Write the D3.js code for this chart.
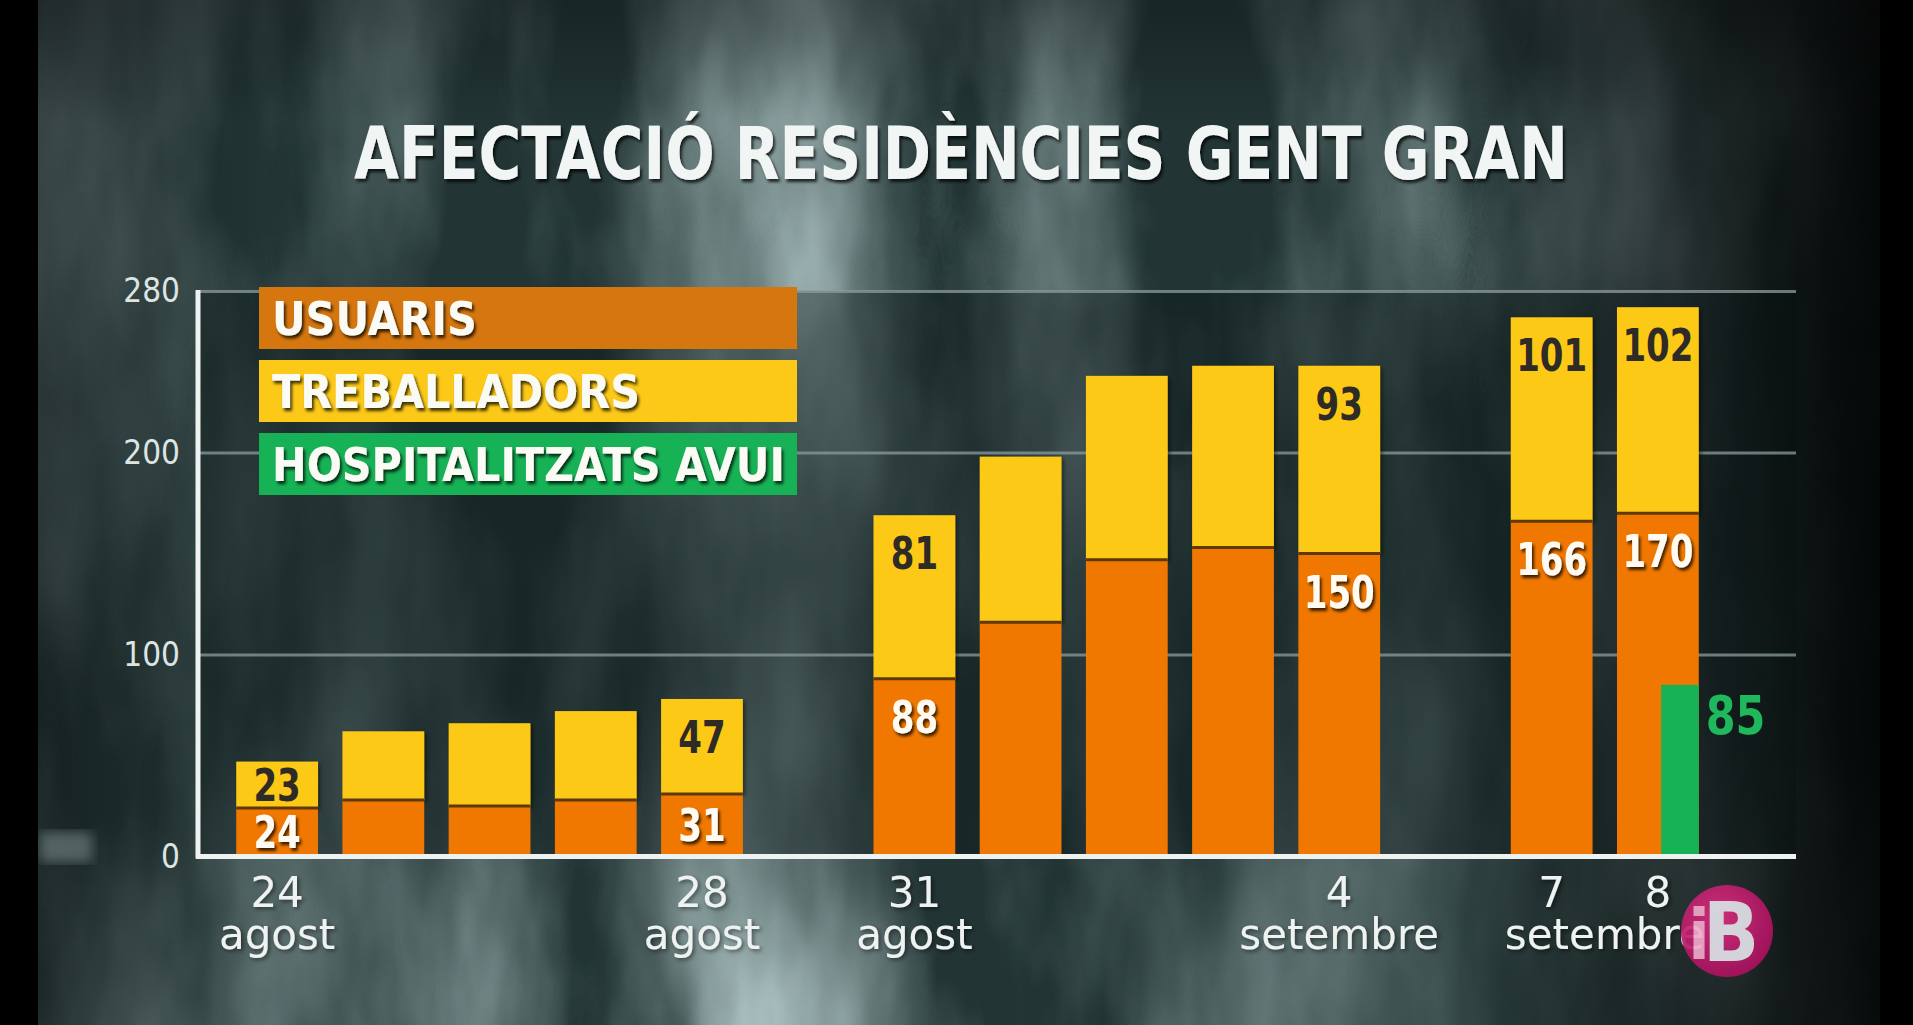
<!DOCTYPE html>
<html>
<head>
<meta charset="utf-8">
<script src="https://cdn.jsdelivr.net/npm/d3@7"></script>
<style>
  html, body { margin: 0; padding: 0; background: #000; overflow: hidden; }
  svg { display: block; }
</style>
</head>
<body>
<svg id="chart" width="1913" height="1025"></svg>
<script>
// data (gaps are the weekends)
const slots = ['24 ag', '25 ag', '26 ag', '27 ag', '28 ag', 'pausa 1', '31 ag', '1 set', '2 set', '3 set', '4 set', 'pausa 2', '7 set', '8 set'];
const usuaris = [24, 28, 25, 28, 31, null, 88, 116, 147, 153, 150, null, 166, 170];
const treballadors = [23, 34, 41, 44, 47, null, 81, 82, 91, 90, 93, null, 101, 102];
const hospitalitzats = [null, null, null, null, null, null, null, null, null, null, null, null, null, 85];
const labelled = [true, false, false, false, true, false, true, false, false, false, true, false, true, true];

const yTicks = [0, 100, 200, 280];
const dayTicks = ['24 ag', '28 ag', '31 ag', '4 set', '7 set', '8 set'];
const dayLabels = ['24', '28', '31', '4', '7', '8'];
const monthLabels = ['agost', 'agost', 'agost', 'setembre', 'setembre'];
const monthFrom = ['24 ag', '28 ag', '31 ag', '4 set', '7 set'];
const monthTo = ['24 ag', '28 ag', '31 ag', '4 set', '8 set'];

const legendLabels = ['USUARIS', 'TREBALLADORS', 'HOSPITALITZATS AVUI'];
const title = 'AFECTACIÓ RESIDÈNCIES GENT GRAN';

const orange = '#f07800';
const yellow = '#fcc918';
const green = '#17b255';
const legendColors = ['#d5760f', yellow, green];

const width = 1913;
const height = 1025;
const plotLeft = 198;
const plotRight = 1796;
const bold = '"DejaVu Sans Condensed", "DejaVu Sans", sans-serif';

const svg = d3.select('#chart');
const defs = svg.append('defs');

// ---- background: smoky teal texture, streaky like the studio backdrop
const smoke = defs.append('filter').attr('id', 'smoke')
    .attr('x', 0).attr('y', 0).attr('width', '100%').attr('height', '100%');
smoke.append('feTurbulence')
    .attr('type', 'fractalNoise')
    .attr('baseFrequency', '0.0045 0.0016')
    .attr('numOctaves', 5)
    .attr('seed', 4);
smoke.append('feColorMatrix')
    .attr('type', 'matrix')
    .attr('values', '0 0 0 0 0.45  0 0 0 0 0.58  0 0 0 0 0.58  1.9 0 0 0 -0.62');

const smokeTop = defs.append('radialGradient').attr('id', 'smokeTop')
    .attr('cx', 0.5).attr('cy', 0.15).attr('r', 0.5);
smokeTop.append('stop').attr('offset', 0).attr('stop-color', '#fff');
smokeTop.append('stop').attr('offset', 1).attr('stop-color', '#fff').attr('stop-opacity', 0);

const smokeBottom = defs.append('radialGradient').attr('id', 'smokeBottom')
    .attr('cx', 0.35).attr('cy', 1).attr('r', 0.45);
smokeBottom.append('stop').attr('offset', 0).attr('stop-color', '#fff');
smokeBottom.append('stop').attr('offset', 1).attr('stop-color', '#fff').attr('stop-opacity', 0);

const mask = defs.append('mask').attr('id', 'smokeMask');
mask.append('rect').attr('width', width).attr('height', height).attr('fill', '#6a6a6a');
mask.append('rect').attr('width', width).attr('height', height).attr('fill', 'url(#smokeTop)');
mask.append('rect').attr('width', width).attr('height', height).attr('fill', 'url(#smokeBottom)');

const vignette = defs.append('linearGradient').attr('id', 'vignette')
    .attr('x1', 0).attr('x2', 1).attr('y1', 0).attr('y2', 0);
vignette.append('stop').attr('offset', 0).attr('stop-color', '#000').attr('stop-opacity', 0.4);
vignette.append('stop').attr('offset', 0.14).attr('stop-color', '#000').attr('stop-opacity', 0);
vignette.append('stop').attr('offset', 0.76).attr('stop-color', '#000').attr('stop-opacity', 0);
vignette.append('stop').attr('offset', 0.98).attr('stop-color', '#000').attr('stop-opacity', 0.85);

const topShade = defs.append('linearGradient').attr('id', 'topShade')
    .attr('x1', 0).attr('x2', 0).attr('y1', 0).attr('y2', 1);
topShade.append('stop').attr('offset', 0).attr('stop-color', '#000').attr('stop-opacity', 0.3);
topShade.append('stop').attr('offset', 0.12).attr('stop-color', '#000').attr('stop-opacity', 0);

const shadow = defs.append('filter').attr('id', 'shadow')
    .attr('x', '-10%').attr('y', '-20%').attr('width', '130%').attr('height', '150%');
shadow.append('feDropShadow')
    .attr('dx', 2).attr('dy', 3).attr('stdDeviation', 1.5)
    .attr('flood-color', '#000').attr('flood-opacity', 0.75);

const softShadow = defs.append('filter').attr('id', 'softShadow')
    .attr('x', '-10%').attr('y', '-10%').attr('width', '130%').attr('height', '130%');
softShadow.append('feDropShadow')
    .attr('dx', 2).attr('dy', 2).attr('stdDeviation', 2)
    .attr('flood-color', '#000').attr('flood-opacity', 0.5);

const blur = defs.append('filter').attr('id', 'blur');
blur.append('feGaussianBlur').attr('stdDeviation', 6);

svg.append('rect').attr('width', width).attr('height', height).attr('fill', '#223434');
svg.append('rect').attr('width', width).attr('height', height)
    .attr('filter', 'url(#smoke)').attr('mask', 'url(#smokeMask)');
svg.append('rect').attr('width', width).attr('height', height).attr('fill', 'url(#vignette)');
svg.append('rect').attr('width', width).attr('height', height).attr('fill', 'url(#topShade)');

// ---- scales
const x = d3.scaleBand()
    .domain(slots)
    .range([plotLeft, 1737])
    .paddingInner(0.23)
    .paddingOuter(0.36);

const y = d3.scaleLinear()
    .domain([0, 200])
    .range([856.5, 452.6]);

const bw = x.bandwidth();
const mid = (slot) => x(slot) + bw / 2;

// plot area is a shade darker than the backdrop
svg.append('rect')
    .attr('x', plotLeft)
    .attr('y', y(280))
    .attr('width', plotRight - plotLeft)
    .attr('height', y(0) - y(280))
    .attr('fill', '#061010')
    .attr('opacity', 0.38);

// video artefact left of the zero line
svg.append('rect')
    .attr('x', 40).attr('y', 832).attr('width', 52).attr('height', 30)
    .attr('fill', '#6a7a7a').attr('opacity', 0.7)
    .attr('filter', 'url(#blur)');

// ---- gridlines + y labels
const yAxis = svg.append('g')
    .attr('transform', `translate(${plotLeft},0)`)
    .call(d3.axisLeft(y)
        .tickValues(yTicks)
        .tickSize(-(plotRight - plotLeft))
        .tickPadding(18));
yAxis.select('.domain').remove();
yAxis.selectAll('.tick line')
    .attr('stroke', '#8c9c9c')
    .attr('stroke-opacity', 0.75)
    .attr('stroke-width', 3);
yAxis.selectAll('.tick text')
    .attr('fill', '#dde5e3')
    .style('font', '33px "DejaVu Sans Condensed", "DejaVu Sans", sans-serif');

// ---- legend
const legend = svg.append('g').attr('class', 'legend');
legend.selectAll('rect')
    .data(legendLabels)
    .join('rect')
    .attr('x', 259)
    .attr('y', (d, i) => 287 + i * 73)
    .attr('width', 538)
    .attr('height', 62)
    .attr('fill', (d, i) => legendColors[i]);
legend.selectAll('text')
    .data(legendLabels)
    .join('text')
    .attr('x', 272)
    .attr('y', (d, i) => 287 + i * 73 + 48)
    .attr('fill', '#fbfbf6')
    .attr('filter', 'url(#shadow)')
    .style('font', `bold 46px ${bold}`)
    .text((d) => d);

// ---- stacked bars
const rows = slots
    .map((slot, i) => ({
        slot,
        u: usuaris[i],
        t: treballadors[i],
        h: hospitalitzats[i],
        show: labelled[i],
    }))
    .filter((d) => d.u !== null);

const bars = svg.append('g').attr('class', 'bars');

bars.selectAll('.treb')
    .data(rows)
    .join('rect')
    .attr('class', 'treb')
    .attr('x', (d) => x(d.slot))
    .attr('y', (d) => y(d.u + d.t))
    .attr('width', bw)
    .attr('height', (d) => y(d.u) - y(d.u + d.t))
    .attr('fill', yellow)
    .attr('filter', 'url(#softShadow)');

bars.selectAll('.usu')
    .data(rows)
    .join('rect')
    .attr('class', 'usu')
    .attr('x', (d) => x(d.slot))
    .attr('y', (d) => y(d.u))
    .attr('width', bw)
    .attr('height', (d) => y(0) - y(d.u))
    .attr('fill', orange);

bars.selectAll('.sep')
    .data(rows)
    .join('line')
    .attr('class', 'sep')
    .attr('x1', (d) => x(d.slot))
    .attr('x2', (d) => x(d.slot) + bw)
    .attr('y1', (d) => y(d.u))
    .attr('y2', (d) => y(d.u))
    .attr('stroke', '#5e3806')
    .attr('stroke-width', 3);

const hosp = rows.filter((d) => d.h !== null);
bars.selectAll('.hosp')
    .data(hosp)
    .join('rect')
    .attr('class', 'hosp')
    .attr('x', (d) => x(d.slot) + bw * 0.54)
    .attr('y', (d) => y(d.h))
    .attr('width', bw * 0.46)
    .attr('height', (d) => y(0) - y(d.h))
    .attr('fill', green);

// ---- value labels
const squeeze = (sel, k) => sel.each(function () {
    const w = this.getComputedTextLength();
    d3.select(this).attr('textLength', w * k).attr('lengthAdjust', 'spacingAndGlyphs');
});

const shown = rows.filter((d) => d.show);
const labelY = (top, bottom) => Math.min(top + 38, (top + bottom) / 2);

bars.selectAll('.lab-u')
    .data(shown)
    .join('text')
    .attr('class', 'lab-u')
    .attr('x', (d) => mid(d.slot))
    .attr('y', (d) => labelY(y(d.u), y(0)))
    .attr('dy', '0.36em')
    .attr('text-anchor', 'middle')
    .attr('fill', '#fffaf2')
    .attr('filter', 'url(#shadow)')
    .style('font', `bold 45px ${bold}`)
    .text((d) => d.u)
    .call(squeeze, 0.84);

bars.selectAll('.lab-t')
    .data(shown)
    .join('text')
    .attr('class', 'lab-t')
    .attr('x', (d) => mid(d.slot))
    .attr('y', (d) => labelY(y(d.u + d.t), y(d.u)))
    .attr('dy', '0.36em')
    .attr('text-anchor', 'middle')
    .attr('fill', '#2e2b26')
    .style('font', `bold 45px ${bold}`)
    .text((d) => d.t)
    .call(squeeze, 0.84);

bars.selectAll('.lab-h')
    .data(hosp)
    .join('text')
    .attr('class', 'lab-h')
    .attr('x', (d) => x(d.slot) + bw + 7)
    .attr('y', (d) => y(d.h) + 30)
    .attr('dy', '0.36em')
    .attr('fill', '#1fb85c')
    .style('font', `bold 53px ${bold}`)
    .text((d) => d.h)
    .call(squeeze, 0.9);

// ---- axis frame
svg.append('line')
    .attr('x1', plotLeft).attr('x2', plotLeft)
    .attr('y1', y(280) - 1).attr('y2', y(0) + 2)
    .attr('stroke', '#eef3f2').attr('stroke-width', 5);
svg.append('line')
    .attr('x1', plotLeft - 2).attr('x2', plotRight)
    .attr('y1', y(0)).attr('y2', y(0))
    .attr('stroke', '#eef3f2').attr('stroke-width', 5);

// ---- date labels: one text per month block, day numbers above the month name
const dateLabels = svg.append('g')
    .attr('fill', '#eef2f0')
    .attr('text-anchor', 'middle')
    .style('font', '42px "DejaVu Sans", sans-serif');

monthLabels.forEach((month, i) => {
    const a = dayTicks.indexOf(monthFrom[i]);
    const b = dayTicks.indexOf(monthTo[i]);
    const t = dateLabels.append('text').attr('filter', 'url(#softShadow)');
    for (let k = a; k <= b; k += 1) {
        t.append('tspan')
            .attr('x', mid(dayTicks[k]))
            .attr('y', y(0) + 50.5)
            .text(dayLabels[k]);
    }
    t.append('tspan')
        .attr('x', (mid(monthFrom[i]) + mid(monthTo[i])) / 2)
        .attr('y', 949)
        .text(month);
});

// ---- title
svg.append('text')
    .attr('x', 961)
    .attr('y', 179)
    .attr('text-anchor', 'middle')
    .attr('fill', '#f1f6f4')
    .attr('filter', 'url(#shadow)')
    .attr('textLength', 1214)
    .attr('lengthAdjust', 'spacingAndGlyphs')
    .style('font', `bold 73px ${bold}`)
    .text(title);

// ---- letterbox bars
svg.append('rect').attr('x', 0).attr('y', 0).attr('width', 38).attr('height', height).attr('fill', '#000');
svg.append('rect').attr('x', 1880).attr('y', 0).attr('width', 33).attr('height', height).attr('fill', '#000');

// ---- channel bug
const logoGrad = defs.append('radialGradient').attr('id', 'logoGrad')
    .attr('cx', 0.4).attr('cy', 0.35).attr('r', 0.7);
logoGrad.append('stop').attr('offset', 0).attr('stop-color', '#d8307f');
logoGrad.append('stop').attr('offset', 1).attr('stop-color', '#a8105e');

const logo = svg.append('g')
    .attr('transform', 'translate(1727,931)')
    .attr('opacity', 0.92);
logo.append('circle').attr('r', 46).attr('fill', 'url(#logoGrad)');
logo.append('text')
    .attr('x', -28).attr('y', 28)
    .attr('text-anchor', 'middle')
    .attr('fill', '#f2a9cb')
    .style('font', `bold 70px ${bold}`)
    .text('i');
logo.append('text')
    .attr('x', 4).attr('y', 30)
    .attr('text-anchor', 'middle')
    .attr('fill', '#e4e2ea')
    .style('font', `bold 82px ${bold}`)
    .text('B');
</script>
</body>
</html>
